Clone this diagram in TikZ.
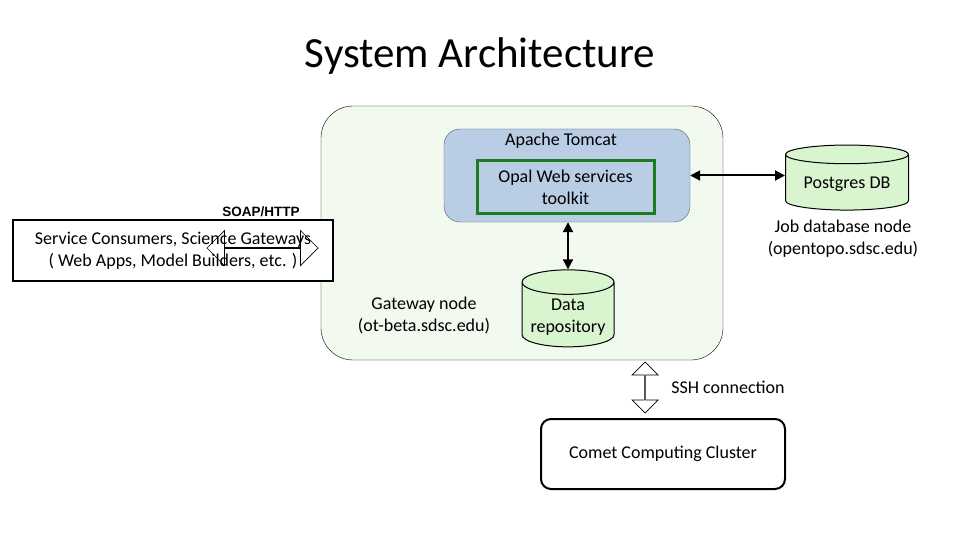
\documentclass[tikz,border=0pt]{standalone}
\usepackage{fontspec}
\setmainfont{Carlito}
\newfontfamily\arialfont{Liberation Sans}
\usepackage{xcolor}
\usepackage{tikz}
\usetikzlibrary{positioning,arrows.meta,shapes.geometric,shapes.arrows}
\definecolor{GFill}{HTML}{F2FAF0}
\definecolor{TFill}{HTML}{B9CDE5}
\definecolor{TLine}{HTML}{4A5B70}
\definecolor{OLine}{HTML}{1E7B22}
\definecolor{DFill}{HTML}{D8F5D0}

\begin{document}
\begin{tikzpicture}[x=1pt,y=-1pt,
  every node/.style={align=center, font=\fontsize{18}{22}\selectfont},
  dbase/.style={cylinder, shape border rotate=90, draw, fill=DFill, line width=1pt},
  hollow/.style={double arrow, draw, line width=0.7pt, inner sep=0pt},
  link/.style={{Triangle[length=10pt,width=10pt]}-{Triangle[length=10pt,width=10pt]}, line width=2pt}]
  \useasboundingbox[fill=white] (0,0) rectangle (960,540);

  \node[font=\fontsize{43}{43}\selectfont] (title) at (480,56) {System Architecture};

  % gateway node
  \node[draw, fill=GFill, rounded corners=32pt, minimum width=402pt, minimum height=254pt] (gw) at (522,233) {};
  \node (gwlbl) at (424,315) {Gateway node\\(ot-beta.sdsc.edu)};

  \node[draw=TLine, fill=TFill, rounded corners=16pt, minimum width=246pt, minimum height=93pt] (tomcat) at (567,175.5) {};
  \node (tomcatlbl) at (561,141) {Apache Tomcat};
  \node[draw=OLine, line width=3pt, minimum width=177pt, minimum height=52pt] (opal) at (565.5,187) {Opal Web services\\toolkit};

  \node[dbase, aspect=0.3, minimum width=92pt, minimum height=77pt] (repo) at (568,317) {Data\\repository};

  % job database
  \node[dbase, aspect=0.2, minimum width=123pt, minimum height=65pt] (pg) at (847,184) {Postgres DB};
  \node (joblbl) at (843,239) {Job database node\\(opentopo.sdsc.edu)};

  % consumers
  \node[draw, line width=2pt, fill=white, minimum width=320pt, minimum height=61pt] (client) at (173,250.5) {Service Consumers, Science Gateways\\( Web Apps, Model Builders, etc. )};
  \node[font=\arialfont\bfseries\fontsize{13.5}{14}\selectfont] (soaplbl) at (261,212) {SOAP/HTTP};
  \node[hollow, minimum height=111pt, minimum width=35pt, double arrow head extend=11pt] (soap) at (262.5,248) {};

  % cluster
  \node[draw, line width=2pt, rounded corners=10pt, minimum width=244pt, minimum height=70pt] (comet) at (663,454) {Comet Computing Cluster};
  \node[hollow, rotate=90, minimum height=51pt, minimum width=26pt, double arrow head extend=7pt] (ssh) at (645,387.5) {};
  \node (sshlbl) at (728,387) {SSH connection};

  \draw[link] (tomcat.east) -- (tomcat.east -| pg.west);
  \draw[link] (repo.north) -- (repo.north |- tomcat.south);
\end{tikzpicture}
\end{document}
